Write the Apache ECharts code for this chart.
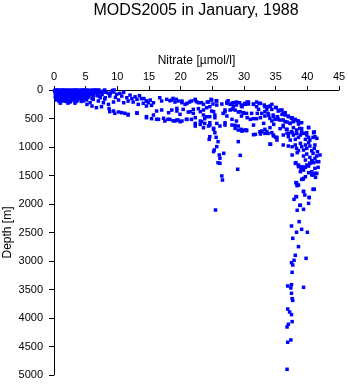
<!DOCTYPE html>
<html>
<head>
<meta charset="utf-8">
<script src="https://cdn.jsdelivr.net/npm/echarts@6/dist/echarts.min.js"></script>
<style>
  html, body { margin: 0; padding: 0; background: #fff; }
  #chart { width: 348px; height: 384px; }
</style>
</head>
<body>
<div id="chart"></div>
<script>
// Nitrate [µmol/l] vs depth [m] profiles, January 1988 (MODS2005)
// Each entry: [nitrate, depth]

// Mixed layer, 0-250 m
const surfaceLayer = [
  [0.2,0],[0.5,0],[0.9,0],[1.3,0],[1.6,0],[2.0,0],[2.4,0],[2.9,0],[3.3,0],[3.6,0],[4.1,0],[4.5,0],[4.8,0],[5.3,0],[5.9,0],[6.4,0],[7.1,0],[8.0,0],[9.5,0],
  [0.1,20],[0.6,20],[1.0,20],[1.4,20],[1.8,20],[2.2,20],[2.7,20],[3.1,20],[3.5,20],[4.0,20],[4.3,20],[4.9,20],[5.4,20],[5.8,20],[6.3,20],[7.0,20],
  [0.3,40],[0.7,40],[1.1,40],[1.5,40],[2.0,40],[2.5,40],[2.8,40],[3.3,40],[3.8,40],[4.2,40],[4.7,40],[5.1,40],[5.6,40],[6.1,40],[6.6,40],[7.5,40],
  [0.2,60],[0.5,60],[1.0,60],[1.4,60],[1.9,60],[2.3,60],[2.7,60],[3.2,60],[3.6,60],[4.0,60],[4.5,60],[5.0,60],[5.5,60],[6.0,60],[6.8,60],
  [0.4,80],[0.8,80],[1.2,80],[1.7,80],[2.1,80],[2.6,80],[3.0,80],[3.4,80],[3.9,80],[4.4,80],[4.8,80],[5.2,80],[5.7,80],[6.2,80],
  [0.3,100],[0.7,100],[1.3,100],[1.8,100],[2.2,100],[2.6,100],[3.1,100],[3.5,100],[4.1,100],[4.6,100],[5.0,100],[5.5,100],[6.1,100],[6.9,100],
  [0.2,125],[0.6,125],[1.1,125],[1.6,125],[2.4,125],[2.9,125],[3.4,125],[3.8,125],[4.3,125],[4.9,125],[5.4,125],
  [0.5,150],[1.0,150],[1.5,150],[2.0,150],[2.7,150],[3.3,150],[4.0,150],[4.6,150],[5.2,150],[6.0,150],
  [0.4,175],[1.2,175],[2.1,175],[3.0,175],[3.7,175],[4.4,175],[5.1,175],
  [0.8,200],[1.9,200],[2.6,200],[3.5,200],[4.3,200],
  [1.0,230],[2.2,230],[3.3,230]
];

// Nitracline, 5-15 µmol/l
const nitraclineLow = [
  [6.7,0],[7.3,35],[7.8,18],[8.6,59],[9.4,35],[9.9,76],[10.7,106],[11.5,135],[12.3,152],[13.1,164],
  [13.8,152],[14.6,193],[6.2,164],[7.0,193],[7.8,223],[8.6,252],[9.4,211],[10.2,176],[11.0,223],[11.7,193],
  [12.5,211],[13.3,252],[14.1,234],[14.9,223],[5.2,252],[6.0,281],[6.7,310],[7.5,293],[8.7,328],[9.4,369],
  [10.2,386],[10.7,398],[11.7,427],[13.1,398],[14.6,468],[5.7,223],[4.6,193],[3.6,193],[2.5,211],[1.5,193],
  [8.8,106],[8.1,135],[7.3,135],[6.5,20],[7.0,50],[7.6,80],[8.2,40],[8.9,60],[9.2,10],[6.3,100],
  [7.2,110],[8.0,160],[9.7,130],[10.4,60],[11.0,40],[12.0,90],[12.8,120],[13.5,100],[14.2,150],
  [8.8,380],[9.6,409],[11.2,409],[11.7,439],[13.1,409],[15.7,439],[16.2,514],[17.3,496],[18.0,514],[19.4,526],[19.9,556]
];

// Nitracline, 15-30 µmol/l
const nitraclineMid = [
  [14.6,193],[15.2,176],[15.7,223],[16.7,135],[17.0,193],[17.8,164],[18.6,176],[19.1,211],[19.6,193],[20.2,223],
  [20.7,252],[21.7,193],[22.3,176],[22.8,223],[23.6,252],[24.4,211],[24.9,176],[25.7,193],[27.3,211],[27.8,252],
  [28.3,223],[28.8,211],[29.6,281],[14.6,281],[15.4,269],[16.2,369],[17.0,351],[18.1,398],[19.4,369],[19.9,427],
  [21.2,386],[22.0,340],[22.8,328],[23.6,351],[24.1,310],[24.9,369],[27.0,351],[28.1,340],[29.1,386],[29.6,457],
  [14.6,486],[15.4,503],[16.5,515],[17.5,544],[18.3,515],[19.1,544],[20.2,544],[21.0,515],[21.7,515],[22.3,486],
  [23.1,544],[23.8,503],[24.6,468],[25.4,486],[27.3,457],[28.1,515],[28.8,544],[28.6,620],[29.1,632],[29.6,690],
  [22.3,632],[23.1,603],[23.6,661],[24.4,632],[25.2,690],[25.4,749],[27.0,574],[26.2,632],[24.6,574]
];

// Additional casts across 18-41 µmol/l, 150-850 m
const nitraclineCasts = [
  [18.8,147],[19.3,164],[18.3,188],[20.2,194],[21.0,235],[21.4,211],[22.3,164],[22.5,205],[23.3,223],[24.2,211],
  [24.8,164],[25.6,188],[25.1,246],[24.6,293],[25.7,264],[26.5,246],[27.3,235],[27.5,188],[28.1,235],[28.3,293],
  [28.8,264],[29.3,223],[29.6,264],[30.1,235],[30.5,211],[30.7,246],[31.5,246],[32.0,293],[32.4,235],[33.2,264],
  [33.6,293],[34.1,281],[34.4,340],[35.0,305],[35.7,352],[36.2,410],[36.5,439],[37.0,469],[37.5,498],[38.4,539],
  [18.6,352],[19.4,322],[20.4,340],[21.5,381],[22.0,410],[23.1,381],[23.6,439],[24.1,469],[25.2,381],[25.4,439],
  [27.0,381],[26.7,410],[27.8,352],[28.6,352],[29.4,381],[29.9,410],[30.4,410],[31.2,410],[32.1,410],[32.8,410],
  [33.3,381],[33.8,410],[34.6,439],[35.3,469],[34.1,498],[34.9,515],[35.7,527],[36.5,556],[37.3,586],[37.8,556],
  [38.6,597],[18.8,539],[19.6,527],[20.9,515],[22.3,586],[23.3,556],[23.8,586],[24.6,615],[25.7,586],[25.2,673],
  [27.0,615],[28.1,615],[28.6,673],[29.1,703],[29.6,703],[30.4,703],[31.5,615],[32.5,732],[33.3,761],[33.8,761],
  [34.6,790],[35.0,831],[36.2,644],[36.7,691],[37.0,761],[37.5,732],[38.3,761],[38.8,673],[39.1,761],[39.6,761],
  [40.2,656],[41.0,743],[40.9,831]
];

// Upper 800 m, 30-42 µmol/l
const nitraclineHigh = [
  [29.7,293],[30.2,252],[30.7,211],[31.5,252],[32.0,211],[32.6,234],[32.3,340],[33.3,293],[33.6,340],[34.1,293],
  [34.4,252],[35.1,310],[35.4,369],[36.0,351],[36.0,427],[36.5,398],[37.0,457],[37.6,486],[38.1,515],[38.6,544],
  [29.9,398],[30.5,486],[31.0,515],[31.5,503],[32.0,503],[32.6,486],[33.3,457],[33.9,445],[34.7,468],[35.4,515],
  [36.2,527],[36.8,562],[37.3,585],[37.8,544],[39.1,574],[34.7,603],[34.1,661],[33.3,690],[32.8,720],[31.8,778],
  [30.2,702],[29.7,720],[35.7,679],[36.8,690],[37.8,661],[38.3,702],[39.1,679],[39.9,749],[40.2,661],[41.1,737],
  [36.2,620],[34.4,544],[33.1,585]
];

// Core of the nitrate maximum, 700-1750 m
const nitrateMaximum = [
  [29.7,714],[30.4,714],[31.5,784],[32.6,772],[32.8,731],[33.6,731],[34.4,749],[34.7,807],[35.2,831],[36.2,790],
  [36.8,760],[37.0,819],[37.6,749],[37.8,790],[38.3,760],[38.9,790],[39.1,731],[39.9,790],[40.2,831],[41.0,749],
  [41.2,819],[36.2,965],[34.1,948],[35.2,878],[37.3,878],[38.1,866],[38.6,831],[39.7,866],[40.4,878],[41.5,848],
  [37.0,983],[37.6,995],[38.1,965],[38.3,1024],[38.6,1065],[38.9,936],[39.1,995],[39.4,1053],[39.7,965],[39.9,1024],
  [40.2,924],[40.4,983],[40.7,1065],[40.9,1112],[41.1,1024],[41.2,965],[41.6,1082],[42.0,1141],[39.9,1123],[39.4,1158],
  [40.4,1182],[41.2,1199],[37.6,1141],[38.4,1100],[41.5,1158],[39.7,1229],[40.7,1240],
  [38.1,1287],[38.6,1316],[39.1,1346],[39.7,1357],[40.4,1287],[41.0,1275],[41.8,1258],[40.2,1334],[41.2,1375],
  [38.9,1433],[39.4,1404],[40.2,1451],[40.7,1433],[41.0,1492],[41.5,1463],[39.7,1521],[41.0,1743],[38.3,1626],
  [39.1,1568],[39.4,1550],[38.6,1667],[29.1,906],[29.4,1146],[29.0,1391],[34.2,953]
];

// Profile reaching ~2100 m near 25 µmol/l
const midProfile = [
  [24.6,819],[24.5,866],[25.6,830],[25.9,906],[25.7,994],[25.3,1052],[25.2,1081],[26.1,1140],[26.2,1198],
  [25.9,1275],[26.2,1286],[26.5,1508],[26.6,1579],[25.5,2105],[26.8,1111]
];

// Deep water, 1250-5000 m
const deepWater = [
  [38.2,1275],[38.6,1345],[39.0,1391],[39.4,1356],[39.9,1316],[40.4,1286],[40.8,1257],[41.5,1257],[41.7,1356],
  [41.2,1462],[40.7,1491],[41.3,1532],[39.3,1567],[38.2,1626],[38.4,1672],[40.9,1742],[39.4,1783],[39.6,1842],
  [38.2,1871],[37.9,1918],[40.3,1883],[40.2,1988],[38.8,2023],[39.4,2093],[38.4,2110],
  [38.4,1678],[39.4,1777],[41.1,1742],[38.3,1871],[40.3,1889],[38.9,2023],
  [38.7,2310],[37.5,2386],[39.1,2444],[38.3,2496],[40.0,2496],[37.7,2602],[38.6,2748],[38.1,2900],[39.8,2953],
  [37.9,2988],[37.5,3029],[37.7,3070],[37.6,3198],[36.9,3438],[37.5,3415],[37.4,3473],[39.4,3462],[37.5,3567],
  [37.6,3660],[37.7,3690],[36.9,3842],[37.2,3894],[37.5,3941],[37.6,4064],[37.0,4110],[36.8,4157],[37.4,4385],
  [36.9,4426],[36.8,4900]
];

const allPoints = [].concat(surfaceLayer, nitraclineLow, nitraclineMid, nitraclineCasts,
  nitraclineHigh, nitrateMaximum, midProfile, deepWater);

const chart = echarts.init(document.getElementById('chart'), null, { renderer: 'canvas' });
const font = 'Liberation Sans, Arial, Helvetica, sans-serif';

chart.setOption({
  animation: false,
  backgroundColor: '#ffffff',
  title: {
    text: 'MODS2005 in January, 1988',
    left: 196,
    top: 3,
    padding: 0,
    textAlign: 'center',
    textStyle: { fontFamily: font, fontSize: 16, fontWeight: 'normal', color: '#000' }
  },
  grid: { left: 54, right: 9, top: 90, bottom: 9, containLabel: false, outerBoundsMode: 'none' },
  xAxis: {
    type: 'value',
    position: 'top',
    min: 0, max: 45, interval: 5,
    name: 'Nitrate [µmol/l]',
    nameLocation: 'middle',
    nameGap: 23,
    nameMoveOverlap: false,
    nameTextStyle: { fontFamily: font, fontSize: 12, color: '#000' },
    axisLine: { show: true, onZero: false, lineStyle: { color: '#000', width: 1 } },
    axisTick: { show: true, length: 4, lineStyle: { color: '#000' } },
    axisLabel: { fontFamily: font, fontSize: 11, color: '#000', margin: 8 },
    splitLine: { show: false }
  },
  yAxis: {
    type: 'value',
    inverse: true,
    min: 0, max: 5000, interval: 500,
    name: 'Depth [m]',
    nameLocation: 'middle',
    nameGap: 40,
    nameMoveOverlap: false,
    nameTextStyle: { fontFamily: font, fontSize: 12, color: '#000' },
    axisLine: { show: true, onZero: false, lineStyle: { color: '#000', width: 1 } },
    axisTick: { show: true, length: 5, lineStyle: { color: '#000' } },
    axisLabel: { fontFamily: font, fontSize: 11, color: '#000', margin: 11, formatter: v => String(v) },
    splitLine: { show: false }
  },
  series: [{
    type: 'scatter',
    symbol: 'rect',
    symbolSize: 3.5,
    itemStyle: { color: '#0000ff', opacity: 1 },
    data: allPoints
  }]
});
</script>
</body>
</html>
